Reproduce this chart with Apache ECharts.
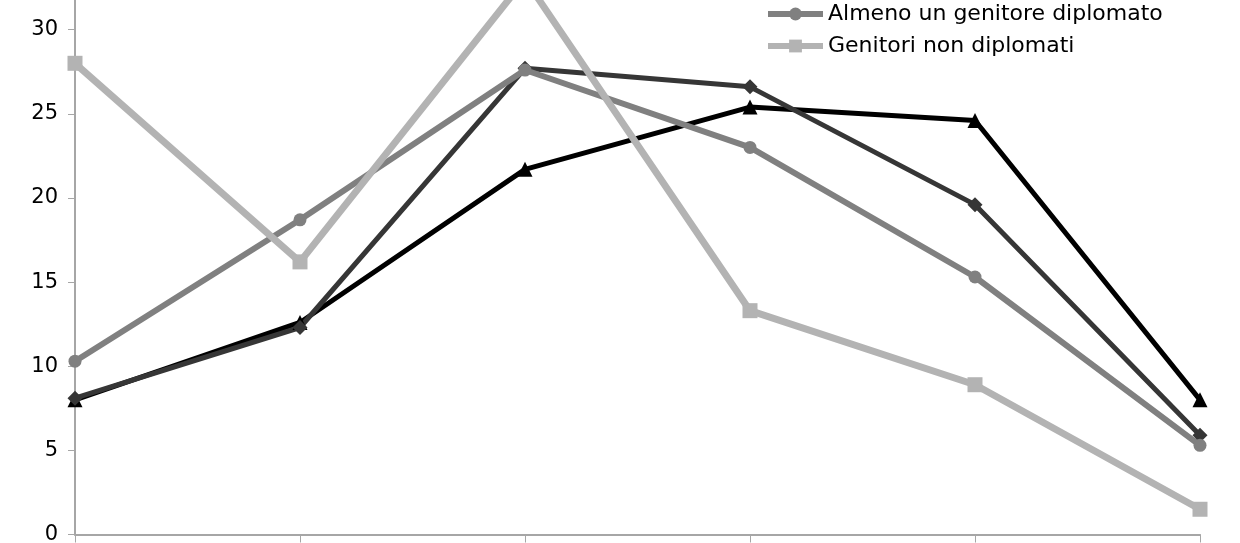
<!DOCTYPE html>
<html lang="it">
<head>
    <meta charset="UTF-8">
    <script src="https://cdn.jsdelivr.net/npm/echarts@6/dist/echarts.min.js"></script>
    <title>Grafico</title>
    <style>
        html, body { margin: 0; padding: 0; background: #fff; overflow: hidden; }
        /* il grafico originale e' ritagliato in alto: spostiamo il contenitore verso l'alto */
        #chart { width: 1240px; height: 643px; margin-top: -98px; }
    </style>
</head>
<body>
<div id="chart"></div>
<script type="text/javascript">
    // categorie (etichette dell'asse x fuori dall'immagine)
    var categorie = ['1', '2', '3', '4', '5', '6'];
    var yTicks = [0, 5, 10, 15, 20, 25, 30, 35];

    var nomeNero = 'Serie A';
    var nomeScuro = 'Serie B';
    var nomeMedio = 'Almeno un genitore diplomato';
    var nomeChiaro = 'Genitori non diplomati';

    var valoriNero = [8.0, 12.6, 21.7, 25.4, 24.6, 8.0];
    var valoriScuro = [8.1, 12.3, 27.7, 26.6, 19.6, 5.9];
    var valoriMedio = [10.3, 18.7, 27.6, 23.0, 15.3, 5.3];
    var valoriChiaro = [28.0, 16.2, 33.0, 13.3, 8.9, 1.5];

    var chart = echarts.init(document.getElementById('chart'), null, {renderer: 'canvas'});

    function serie(nome, dati, colore, simbolo, dim, spessore) {
        return {
            name: nome,
            type: 'line',
            data: dati,
            symbol: simbolo,
            symbolSize: dim,
            showAllSymbol: true,
            animation: false,
            clip: false,
            lineStyle: {color: colore, width: spessore},
            itemStyle: {color: colore}
        };
    }

    var option = {
        backgroundColor: '#ffffff',
        animation: false,
        textStyle: {fontFamily: 'DejaVu Sans'},
        grid: {left: 75, right: 40, top: 43.5, bottom: 8},
        legend: {
            data: [nomeMedio, nomeChiaro],
            orient: 'vertical',
            left: 765,
            top: 101,
            padding: 0,
            itemWidth: 55,
            itemHeight: 16,
            itemGap: 10,
            lineStyle: {width: 6},
            textStyle: {fontFamily: 'DejaVu Sans', fontSize: 22, color: '#000', lineHeight: 22}
        },
        xAxis: {
            type: 'category',
            data: categorie,
            boundaryGap: false,
            axisLine: {lineStyle: {color: '#a6a6a6', width: 2}},
            axisTick: {show: true, length: 8, lineStyle: {color: '#a6a6a6', width: 1}},
            axisLabel: {show: false},
            splitLine: {show: false}
        },
        yAxis: {
            type: 'value',
            min: yTicks[0],
            max: yTicks[yTicks.length - 1],
            interval: 5,
            axisLine: {show: true, lineStyle: {color: '#a6a6a6', width: 2}},
            axisTick: {show: true, length: 7, lineStyle: {color: '#a6a6a6', width: 1}},
            axisLabel: {fontFamily: 'DejaVu Sans', fontSize: 21, color: '#000', margin: 17},
            splitLine: {show: false}
        },
        series: [
            serie(nomeNero, valoriNero, '#000000', 'triangle', 15, 5),
            serie(nomeScuro, valoriScuro, '#363636', 'diamond', 15, 5),
            serie(nomeMedio, valoriMedio, '#808080', 'circle', 13, 6),
            serie(nomeChiaro, valoriChiaro, '#b3b3b3', 'rect', 15, 7)
        ]
    };

    chart.setOption(option);
</script>
</body>
</html>
